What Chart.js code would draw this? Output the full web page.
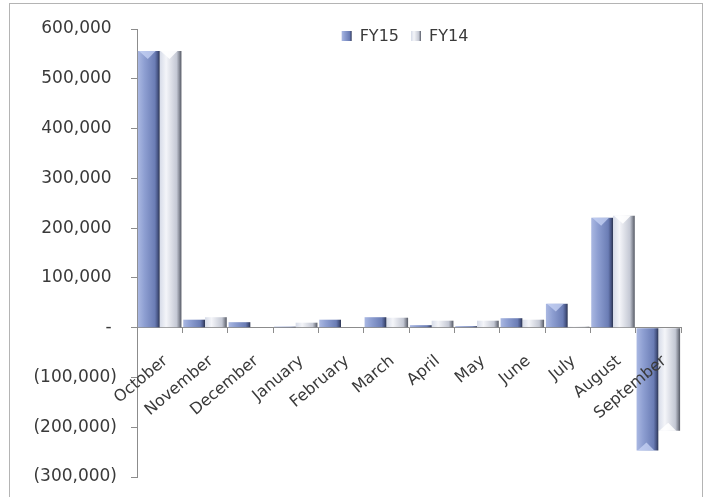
<!DOCTYPE html>
<html>
<head>
<meta charset="utf-8">
<script src="https://cdn.jsdelivr.net/npm/chart.js@4.4.1/dist/chart.umd.min.js"></script>
<style>
  html, body { margin: 0; padding: 0; background: #ffffff; }
  #wrap { position: relative; width: 707px; height: 497px; overflow: hidden; }
  #frame { position: absolute; left: 9px; top: 3px; width: 694px; height: 520px;
           border: 1px solid #b4b4b4; box-sizing: border-box; }
  canvas { position: absolute; left: 0; top: 0; }
</style>
</head>
<body>
<div id="wrap">
  <div id="frame"></div>
  <canvas id="chart" width="707" height="497"></canvas>
</div>
<script>
// Monthly values by fiscal year
const categories = ['October', 'November', 'December', 'January', 'February', 'March',
                    'April', 'May', 'June', 'July', 'August', 'September'];
const fy15 = [556000, 16000, 11000, 2000, 16000, 21000, 5000, 3000, 19000, 48000, 221000, -247000];
const fy14 = [556000, 21000, 1000, 10000, 1000, 20000, 14000, 14000, 16000, 2000, 225000, -207000];
const seriesNames = ['FY15', 'FY14'];
const yTicks = { min: -300000, max: 600000, step: 100000 };

const FONT = 'DejaVu Sans';
const TEXT = '#3a3a3a';
const AXIS = '#8c8c8c';

// Horizontal shading stops for each series (left edge -> right edge)
const shades = [
  [[0, '#aab8e2'], [0.3, '#8e9fd2'], [0.78, '#6b7db5'], [0.9, '#4a5888'], [1, '#2c3552']],
  [[0, '#d6dbe8'], [0.3, '#f4f5f9'], [0.78, '#c4c8d4'], [0.9, '#8a8e9a'], [1, '#555964']]
];
const bevel = ['rgba(200,212,245,0.75)', 'rgba(255,255,255,0.9)'];

function makeShade(ctx, x0, x1, stops) {
  const g = ctx.createLinearGradient(x0, 0, x1, 0);
  stops.forEach(s => g.addColorStop(s[0], s[1]));
  return g;
}

// accounting style: 600,000 / (100,000) / -
const fmt = v => Math.abs(v).toLocaleString('en-US');

// Shade each bar across its width, right before the bars are painted
const barShading = {
  id: 'barShading',
  beforeDatasetsDraw(chart) {
    const ctx = chart.ctx;
    chart.data.datasets.forEach((ds, i) => {
      chart.getDatasetMeta(i).data.forEach(bar => {
        const x0 = bar.x - bar.width / 2, x1 = bar.x + bar.width / 2;
        bar.options.backgroundColor = makeShade(ctx, x0, x1, shades[i]);
      });
    });
  },
  // chamfered highlight at the free end of each bar
  afterDatasetsDraw(chart) {
    const ctx = chart.ctx;
    ctx.save();
    chart.data.datasets.forEach((ds, i) => {
      chart.getDatasetMeta(i).data.forEach(bar => {
        const h = Math.abs(bar.base - bar.y);
        if (h < 12) return;
        const x0 = bar.x - bar.width / 2, x1 = bar.x + bar.width / 2;
        const dir = bar.y < bar.base ? 1 : -1;
        const d = Math.min(8, h / 3);
        ctx.fillStyle = bevel[i];
        ctx.beginPath();
        ctx.moveTo(x0 + 1, bar.y);
        ctx.lineTo(x1 - 4, bar.y);
        ctx.lineTo(bar.x - 1, bar.y + dir * d);
        ctx.closePath();
        ctx.fill();
      });
    });
    ctx.restore();
  }
};

// Legend row drawn inside the plot, centred over it
const innerLegend = {
  id: 'innerLegend',
  afterDraw(chart) {
    const ctx = chart.ctx;
    const area = chart.chartArea;
    ctx.save();
    ctx.font = '16px "' + FONT + '"';
    ctx.textBaseline = 'middle';
    const box = 10, gap = 8, between = 12;
    const widths = seriesNames.map(n => ctx.measureText(n).width);
    const total = widths.reduce((a, w) => a + box + gap + w, 0) + between;
    let x = (area.left + area.right) / 2 - total / 2 - 4;
    const y = area.top + 7;
    seriesNames.forEach((name, i) => {
      ctx.fillStyle = makeShade(ctx, x, x + box, shades[i]);
      ctx.fillRect(x, y - box / 2, box, box);
      x += box + gap;
      ctx.fillStyle = TEXT;
      ctx.fillText(name, x, y + 1);
      x += widths[i] + between;
    });
    ctx.restore();
  }
};

new Chart(document.getElementById('chart'), {
  type: 'bar',
  data: {
    labels: categories,
    datasets: [
      { label: seriesNames[0], data: fy15, borderWidth: 0,
        backgroundColor: () => '#8a9bd0' },
      { label: seriesNames[1], data: fy14, borderWidth: 0,
        backgroundColor: () => '#e6e8f0' }
    ]
  },
  plugins: [barShading, innerLegend],
  options: {
    responsive: false,
    animation: false,
    devicePixelRatio: 1,
    layout: { padding: { left: 0, right: 26, top: 29, bottom: 20 } },
    datasets: { bar: { barPercentage: 1.0, categoryPercentage: 0.96 } },
    plugins: { legend: { display: false }, tooltip: { enabled: false } },
    scales: {
      x: {
        position: { y: 0 },
        grid: { display: true, drawOnChartArea: false, drawTicks: true, tickLength: 5,
                color: AXIS, offset: true },
        border: { display: true, color: AXIS, width: 1 },
        ticks: { z: 1, color: TEXT, font: { family: FONT, size: 16 }, minRotation: 40, maxRotation: 40,
                 padding: 19, labelOffset: 6, autoSkip: false },
        afterFit: s => { s.paddingTop = 0; s.paddingBottom = 0; }
      },
      y: {
        min: yTicks.min, max: yTicks.max,
        grid: { display: true, drawOnChartArea: false, drawTicks: true, tickLength: 6, color: AXIS },
        border: { display: true, color: AXIS, width: 1 },
        ticks: {
          stepSize: yTicks.step, color: TEXT, font: { family: FONT, size: 17 }, padding: 14,
          callback: v => v === 0 ? '- ' : (v < 0 ? '(' + fmt(v) + ')' : fmt(v) + ' ')
        },
        afterFit: s => { s.width = 137; s.paddingTop = 0; s.paddingBottom = 0; }
      }
    }
  }
});
</script>
</body>
</html>
